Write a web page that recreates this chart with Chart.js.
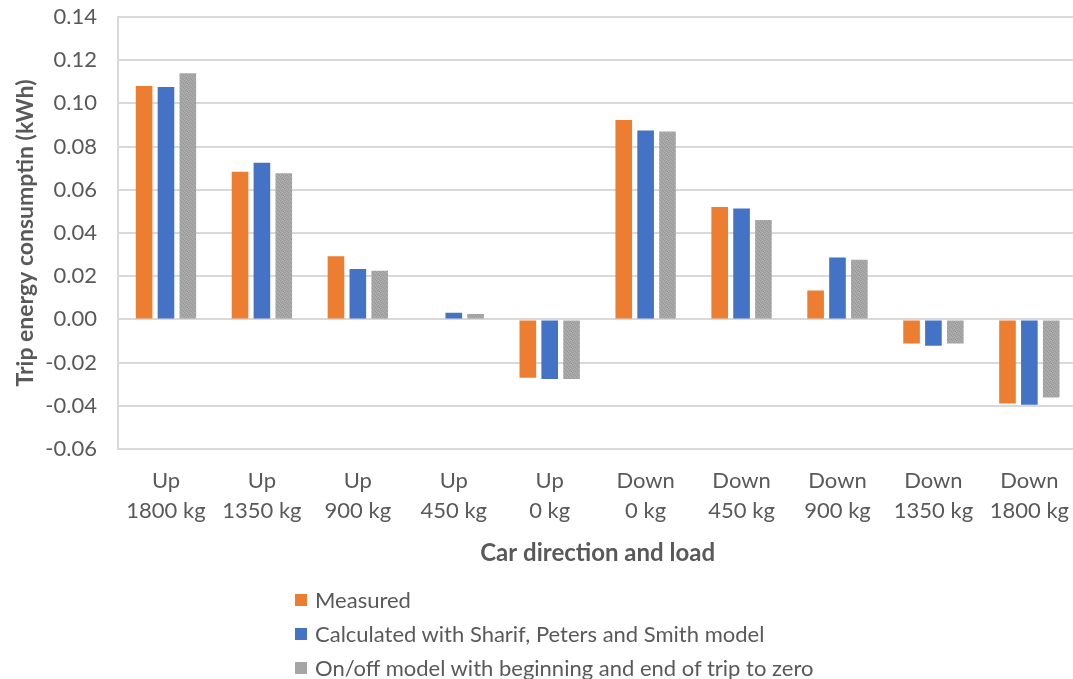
<!DOCTYPE html>
<html>
<head>
<meta charset="utf-8">
<script src="https://cdn.jsdelivr.net/npm/chart.js@4.4.1/dist/chart.umd.min.js"></script>
<style>
  html, body { margin: 0; padding: 0; background: #ffffff; }
  #wrap { position: relative; width: 1073px; height: 679px; overflow: hidden; }
  #chart { position: absolute; left: 0; top: 0; }
  #legend { position: absolute; left: 295px; top: 583px; font-family: Lato, "Open Sans", sans-serif; font-size: 22px; color: #595959; }
  #legend .item { height: 34px; line-height: 32px; display: flex; align-items: center; white-space: nowrap; }
  #legend .sw { width: 12px; height: 12px; margin-right: 8px; flex: none; }
</style>
</head>
<body>
<div id="wrap">
  <canvas id="chart" width="1078" height="679"></canvas>
  <div id="legend"></div>
</div>
<script>
// Trip energy per car direction and load
const categories = [
  ["Up", "1800 kg"], ["Up", "1350 kg"], ["Up", "900 kg"], ["Up", "450 kg"], ["Up", "0 kg"],
  ["Down", "0 kg"], ["Down", "450 kg"], ["Down", "900 kg"], ["Down", "1350 kg"], ["Down", "1800 kg"]
];
const measured   = [0.1080, 0.0684, 0.0292, 0.0000, -0.0270, 0.0923, 0.0520, 0.0134, -0.0111, -0.0389];
const sharifModel = [0.1076, 0.0725, 0.0233, 0.0031, -0.0276, 0.0875, 0.0514, 0.0287, -0.0122, -0.0395];
const onOffModel = [0.1140, 0.0677, 0.0225, 0.0025, -0.0276, 0.0870, 0.0460, 0.0276, -0.0111, -0.0361];
const seriesNames = [
  "Measured",
  "Calculated with Sharif, Peters and Smith model",
  "On/off model with beginning and end of trip to zero"
];
const yTicks = { min: -0.06, max: 0.14, step: 0.02 };

const textColor = "#595959";
const fontFamily = "Lato, 'Open Sans', sans-serif";

// fine grain fill for the grey series
function grainPattern() {
  const c = document.createElement("canvas");
  c.width = 4; c.height = 4;
  const g = c.getContext("2d");
  g.fillStyle = "#a5a5a5";
  g.fillRect(0, 0, 4, 4);
  g.fillStyle = "#999999";
  [[0,0],[2,1],[1,2],[3,3]].forEach(([x, y]) => g.fillRect(x, y, 1, 1));
  g.fillStyle = "#b0b0b0";
  [[2,0],[0,3],[3,1],[1,1]].forEach(([x, y]) => g.fillRect(x, y, 1, 1));
  return g.createPattern(c, "repeat");
}

const colors = ["#ed7d31", "#4472c4", grainPattern()];
const swatches = ["#ed7d31", "#4472c4", "#a5a5a5"];

// light grey frame around the plot area
const plotFrame = {
  id: "plotFrame",
  beforeDatasetsDraw(chart) {
    const { ctx, chartArea: a } = chart;
    ctx.save();
    ctx.strokeStyle = "#d9d9d9";
    ctx.lineWidth = 2;
    ctx.strokeRect(a.left, a.top, a.right - a.left, a.bottom - a.top);
    ctx.restore();
  }
};

const chart = new Chart(document.getElementById("chart"), {
  type: "bar",
  data: {
    labels: categories,
    datasets: [measured, sharifModel, onOffModel].map((d, i) => ({
      label: seriesNames[i],
      data: d,
      backgroundColor: colors[i],
      borderWidth: 0,
      categoryPercentage: 0.684,
      barPercentage: 0.76
    }))
  },
  options: {
    responsive: false,
    animation: false,
    layout: { padding: { left: 0, right: 0, top: 17, bottom: 110 } },
    plugins: {
      legend: { display: false },
      tooltip: { enabled: false }
    },
    scales: {
      x: {
        grid: { display: false },
        border: { display: false },
        ticks: {
          color: textColor,
          font: { family: fontFamily, size: 22, lineHeight: 1.36 },
          padding: 9,
          maxRotation: 0,
          autoSkip: false
        },
        title: {
          display: true,
          text: "Car direction and load",
          color: textColor,
          font: { family: fontFamily, size: 24, weight: "bold", lineHeight: 1.2 },
          padding: { top: 0, bottom: 1 }
        },
        afterFit(scale) { scale.height = 120; }
      },
      y: {
        min: yTicks.min,
        max: yTicks.max,
        grid: { color: "#d9d9d9", lineWidth: 2, drawTicks: false },
        border: { display: false },
        ticks: {
          stepSize: yTicks.step,
          color: textColor,
          font: { family: fontFamily, size: 22 },
          padding: 21,
          callback: v => v.toFixed(2)
        },
        title: {
          display: true,
          text: "Trip energy consumptin (kWh)",
          color: textColor,
          font: { family: fontFamily, size: 23, weight: "bold", lineHeight: 1.2 },
          padding: { top: 12, bottom: 0 }
        },
        afterFit(scale) {
          scale.width = 118;
          scale.paddingTop = 0;
          scale.paddingBottom = 0;
        }
      }
    }
  },
  plugins: [plotFrame]
});

// legend stacked in a single column below the axis title
const legend = document.getElementById("legend");
chart.data.datasets.forEach((ds, i) => {
  const row = document.createElement("div");
  row.className = "item";
  const sw = document.createElement("span");
  sw.className = "sw";
  sw.style.background = swatches[i];
  const label = document.createElement("span");
  label.textContent = ds.label;
  row.appendChild(sw);
  row.appendChild(label);
  legend.appendChild(row);
});
</script>
</body>
</html>
